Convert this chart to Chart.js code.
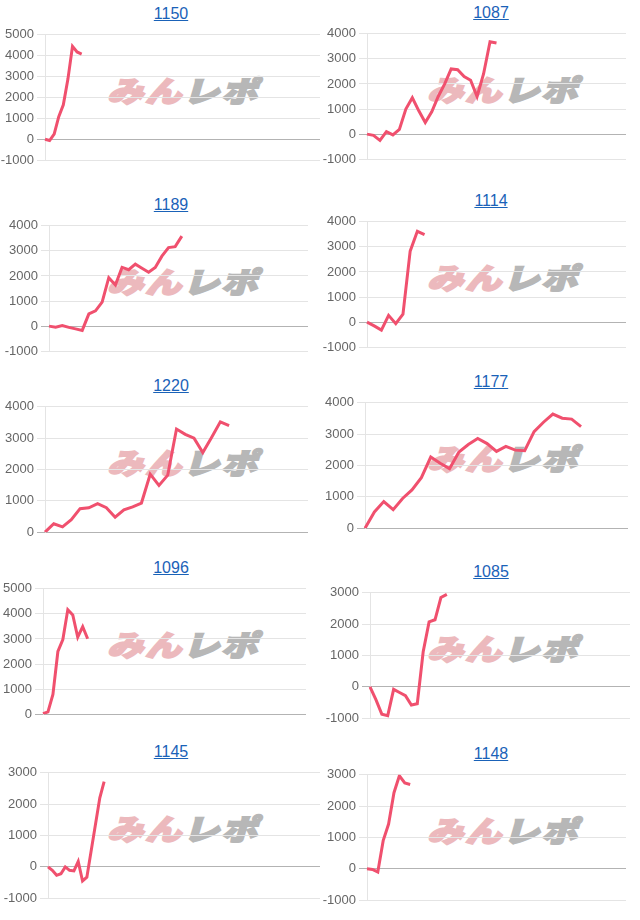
<!DOCTYPE html>
<html>
<head>
<meta charset="utf-8">
<script src="https://cdn.jsdelivr.net/npm/chart.js@4.4.1/dist/chart.umd.min.js"></script>
<style>
  body { margin: 0; background: #fff; width: 640px; height: 920px; position: relative; overflow: hidden; font-family: "Liberation Sans", Arial, sans-serif; }
  .title { position: absolute; width: 120px; text-align: center; font-size: 16px; line-height: 20px; color: #1a62b8; text-decoration: underline; }
  .wm { position: absolute; width: 170px; height: 32px; line-height: 32px; text-align: center; white-space: nowrap;
        font-family: "Noto Sans CJK JP", sans-serif; font-weight: 900; font-size: 36px; letter-spacing: 2px;
        transform: translate(-50%, -50%) skewX(-16deg) scaleY(0.8); }
  .wm .a { color: #ecb9bd; -webkit-text-stroke: 2.5px #ecb9bd; }
  .wm .b { color: #b7b7b7; -webkit-text-stroke: 2.5px #b7b7b7; }
  canvas { position: absolute; }
</style>
</head>
<body>
<script>
// chart titles (left column first row, right column first row, ...)
const titles = ["1150", "1087", "1189", "1114", "1220", "1177", "1096", "1085", "1145", "1148"];

// number of x slots on each chart's category axis
const slotCounts = [61, 41, 40, 37, 31, 29, 54, 45, 64, 49];

// y axis ranges
const yMins = [-1000, -1000, -1000, -1000, 0, 0, 0, -1000, -1000, -1000];
const yMaxs = [5000, 4000, 4000, 4000, 4000, 4000, 5000, 3000, 3000, 3000];

// series values
const s1150 = [0, -60, 250, 1080, 1650, 2880, 4450, 4180, 4080];
const s1087 = [0, -50, -250, 100, -30, 190, 1000, 1450, 930, 460, 890, 1500, 2000, 2600, 2570, 2300, 2150, 1500, 2400, 3680, 3630];
const s1189 = [0, -40, 20, -50, -110, -170, 490, 610, 960, 1930, 1640, 2340, 2250, 2470, 2310, 2150, 2340, 2790, 3130, 3170, 3590];
const s1114 = [0, -150, -320, 270, -60, 320, 2830, 3620, 3490];
const s1220 = [0, 270, 170, 400, 750, 780, 910, 780, 480, 710, 810, 930, 1850, 1490, 1820, 3290, 3120, 3000, 2540, 3020, 3520, 3400];
const s1177 = [0, 520, 850, 590, 950, 1220, 1610, 2270, 2070, 1900, 2430, 2670, 2860, 2700, 2450, 2610, 2490, 2470, 3080, 3380, 3640, 3510, 3480, 3240];
const s1096 = [20, 90, 790, 2500, 2980, 4170, 3960, 3070, 3490, 3010];
const s1085 = [0, -410, -870, -920, -80, -180, -280, -580, -540, 1120, 2070, 2140, 2850, 2950];
const s1145 = [0, -110, -270, -220, 0, -110, -130, 170, -450, -330, null, null, 2200, 2720];
const s1148 = [0, -20, -100, 900, 1430, 2430, 2970, 2740, 2690];

const seriesList = [s1150, s1087, s1189, s1114, s1220, s1177, s1096, s1085, s1145, s1148];

// where each panel sits: y-axis line x, right edge x, title centre y
const panels = [
  { axisX: 45, right: 320, titleY: 14 },
  { axisX: 367, right: 626, titleY: 13 },
  { axisX: 49, right: 308, titleY: 205 },
  { axisX: 367, right: 626, titleY: 201 },
  { axisX: 45, right: 308, titleY: 386 },
  { axisX: 365, right: 628, titleY: 382 },
  { axisX: 43, right: 306, titleY: 568 },
  { axisX: 370, right: 630, titleY: 572 },
  { axisX: 48, right: 320, titleY: 752 },
  { axisX: 367, right: 626, titleY: 754 },
];

const AXIS_W = 45;
const PAD = 8;

panels.forEach((p, i) => {
  const colX = i % 2 === 0 ? 0 : 320;

  const t = document.createElement("div");
  t.className = "title";
  t.textContent = titles[i];
  t.style.left = colX + 171 - 60 + "px";
  t.style.top = p.titleY - 10 + "px";
  document.body.appendChild(t);

  const wm = document.createElement("div");
  wm.className = "wm";
  wm.innerHTML = '<span class="a">みん</span><span class="b">レポ</span>';
  wm.style.left = colX + 187 + "px";
  wm.style.top = p.titleY + 75 + "px";
  document.body.appendChild(wm);

  const canvas = document.createElement("canvas");
  const left = p.axisX - AXIS_W;
  const top = p.titleY + 18 - PAD;
  canvas.width = p.right - left;
  canvas.height = 131 + PAD * 2;
  canvas.style.left = left + "px";
  canvas.style.top = top + "px";
  document.body.appendChild(canvas);

  const labels = Array.from({ length: slotCounts[i] }, (_, k) => String(k + 1));

  new Chart(canvas.getContext("2d"), {
    type: "line",
    data: {
      labels,
      datasets: [
        {
          data: seriesList[i],
          borderColor: "#f0506e",
          borderWidth: 3,
          pointRadius: 0,
          tension: 0,
          spanGaps: true,
        },
      ],
    },
    options: {
      responsive: false,
      animation: false,
      layout: { padding: { top: PAD, bottom: PAD, left: 0, right: 0 } },
      plugins: { legend: { display: false }, tooltip: { enabled: false } },
      scales: {
        x: { display: false, offset: false },
        y: {
          min: yMins[i],
          max: yMaxs[i],
          ticks: {
            stepSize: 1000,
            color: "#666",
            font: { size: 13, family: "'Liberation Sans', Arial, sans-serif" },
            callback: (v) => String(v),
          },
          grid: {
            color: (ctx) => (ctx.tick && ctx.tick.value === 0 ? "#b3b3b3" : "#e4e4e4"),
            tickLength: 8,
          },
          border: { color: "#e4e4e4" },
          afterFit: (scale) => {
            scale.width = AXIS_W;
          },
        },
      },
    },
  });
});
</script>
</body>
</html>
